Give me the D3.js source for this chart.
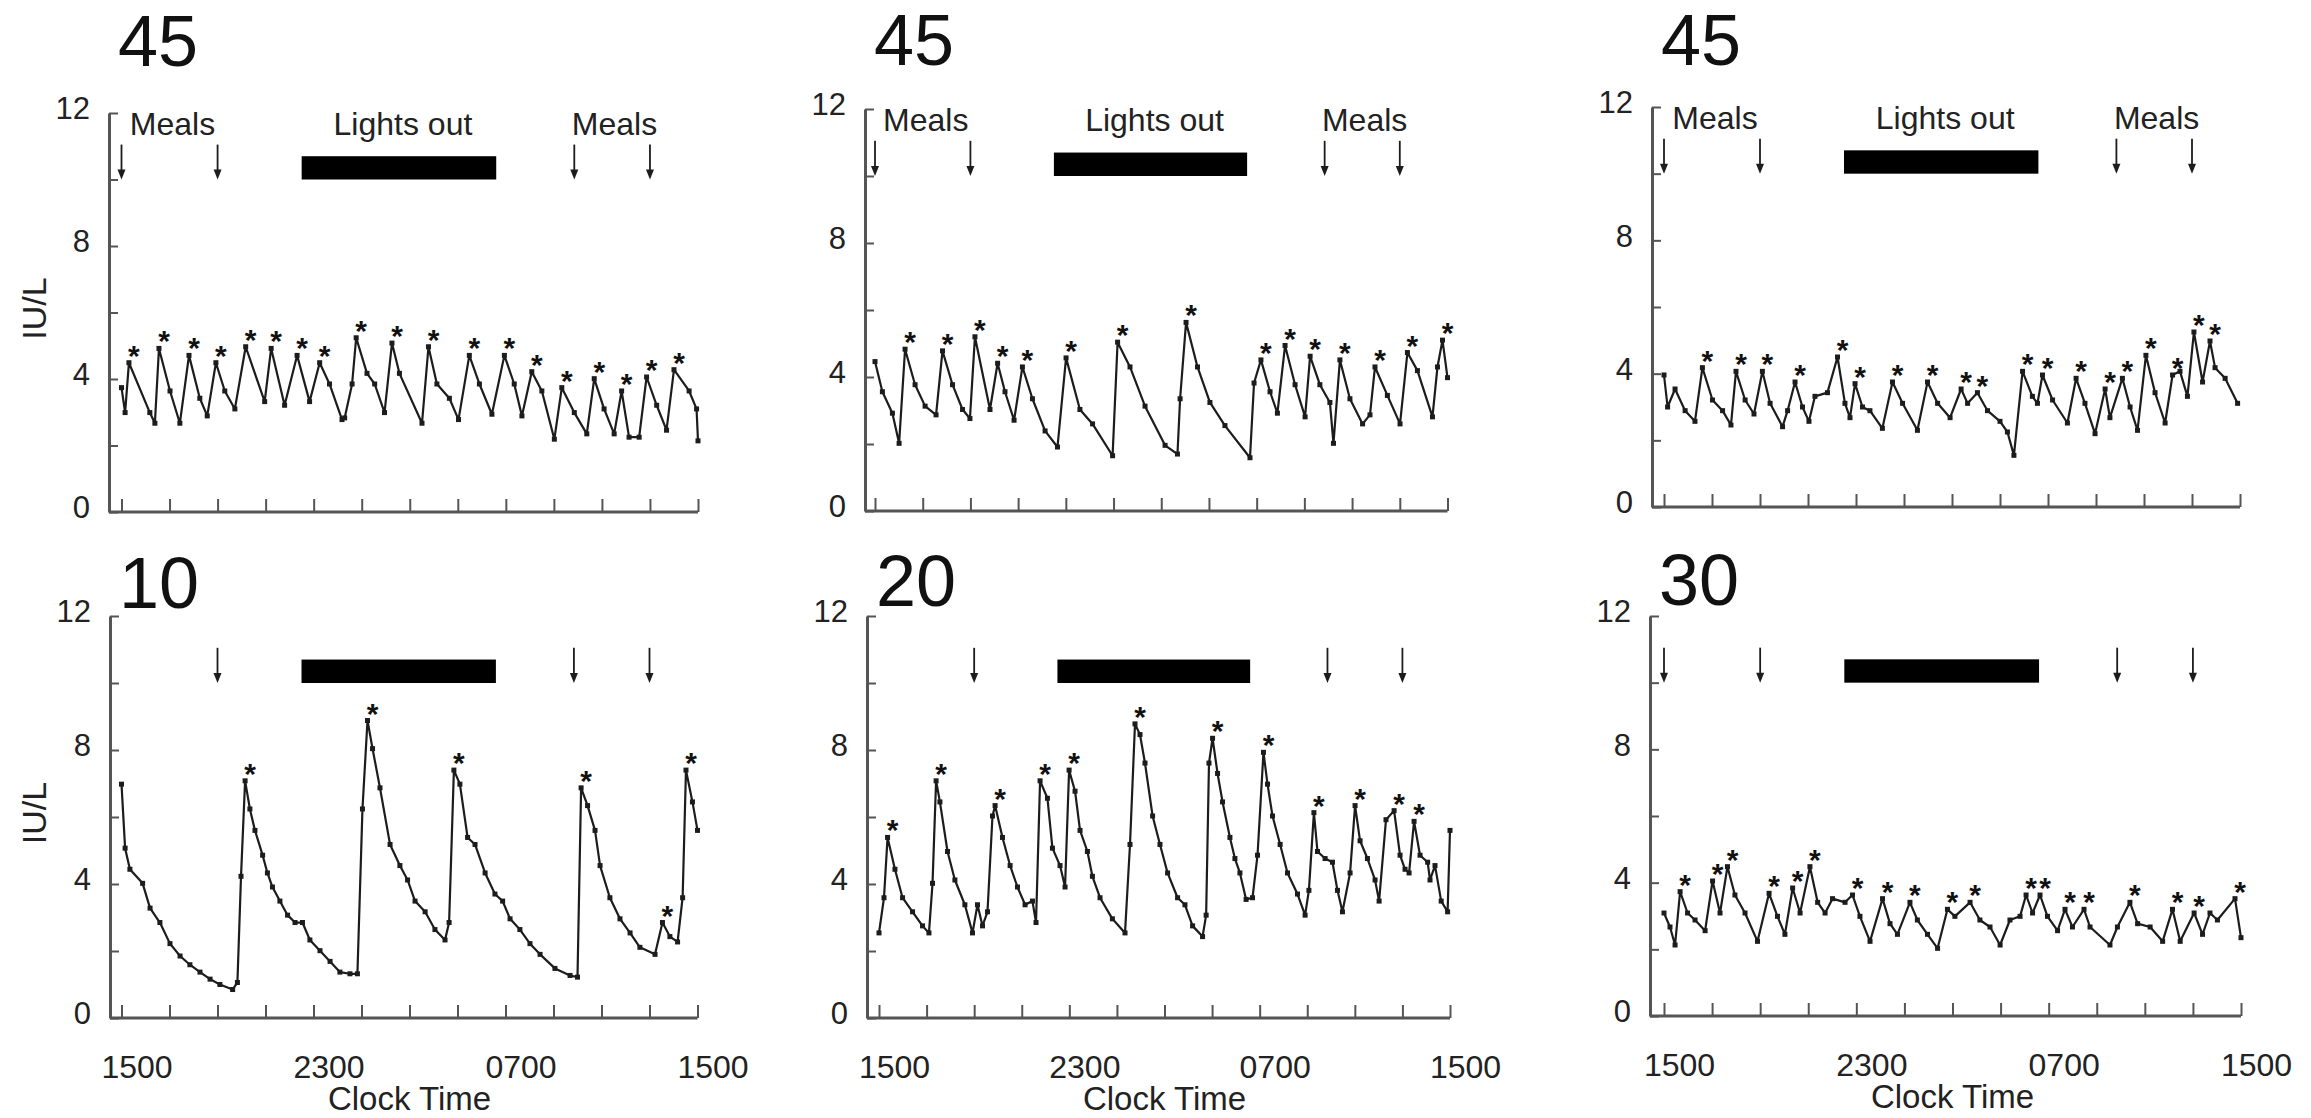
<!DOCTYPE html>
<html>
<head>
<meta charset="utf-8">
<script src="https://cdn.jsdelivr.net/npm/d3@7"></script>
<style>
  html, body { margin: 0; padding: 0; background: #fff; }
  svg { display: block; }
</style>
</head>
<body>
<svg id="chart" width="2311" height="1118"></svg>
<script>
// hours after 1500 (0..24), IU/L
const clockLabels = {0: '1500', 8: '2300', 16: '0700', 24: '1500'}
const mealsAll = [0, 4, 18.85, 22]
const mealsNoFirst = [4, 18.85, 22]
const mealLabelHours = [2, 20.4]
const lightsOut = [7.5, 15.6]

const series45a = [
  [0, 3.74], [0.15, 2.99], [0.31, 4.49], [1.18, 2.99], [1.39, 2.67], [1.56, 4.92], [2.02, 3.64], [2.43, 2.67],
  [2.81, 4.71], [3.26, 3.42], [3.57, 2.89], [3.93, 4.49], [4.3, 3.64], [4.72, 3.1], [5.17, 4.97], [5.96, 3.32],
  [6.23, 4.92], [6.79, 3.21], [7.31, 4.71], [7.83, 3.32], [8.25, 4.49], [8.66, 3.85], [9.18, 2.78], [9.29, 2.83],
  [9.6, 3.85], [9.77, 5.24], [10.22, 4.17], [10.54, 3.85], [10.95, 2.99], [11.26, 5.08], [11.57, 4.17], [12.51, 2.67],
  [12.78, 4.97], [13.13, 3.85], [13.65, 3.42], [14.03, 2.78], [14.48, 4.71], [14.9, 3.85], [15.42, 2.94], [15.94, 4.71],
  [16.35, 3.85], [16.67, 2.89], [17.08, 4.22], [17.5, 3.64], [18.02, 2.19], [18.33, 3.74], [18.85, 2.99], [19.37, 2.35],
  [19.68, 4.01], [20.09, 3.1], [20.51, 2.35], [20.82, 3.64], [21.13, 2.25], [21.55, 2.25], [21.86, 4.06], [22.28, 3.21],
  [22.69, 2.46], [23.0, 4.28], [23.63, 3.64], [23.94, 3.1], [24, 2.14]
]
const stars45a = [0.31, 1.56, 2.81, 3.93, 5.17, 6.23, 7.31, 8.25, 9.77, 11.26, 12.78, 14.48, 15.94, 17.08, 18.33, 19.68, 20.82, 21.86, 23.0]

const series45b = [
  [0, 4.46], [0.31, 3.56], [0.73, 2.92], [1.01, 2.02], [1.26, 4.83], [1.68, 3.77], [2.1, 3.13], [2.56, 2.87],
  [2.83, 4.78], [3.25, 3.77], [3.67, 3.03], [3.98, 2.76], [4.19, 5.2], [4.82, 3.03], [5.14, 4.41], [5.45, 3.56],
  [5.83, 2.71], [6.18, 4.3], [6.6, 3.35], [7.13, 2.39], [7.65, 1.91], [8.01, 4.57], [8.59, 3.03], [9.12, 2.6],
  [9.96, 1.65], [10.17, 5.04], [10.69, 4.3], [11.32, 3.13], [12.16, 1.96], [12.68, 1.7], [12.79, 3.35], [13.04, 5.63],
  [13.52, 4.3], [14.04, 3.24], [14.67, 2.55], [15.72, 1.59], [15.89, 3.82], [16.18, 4.51], [16.56, 3.56], [16.87, 2.92],
  [17.19, 4.94], [17.61, 3.77], [18.03, 2.81], [18.24, 4.62], [18.65, 3.77], [19.07, 3.24], [19.22, 2.02], [19.49, 4.51],
  [19.91, 3.35], [20.44, 2.6], [20.75, 2.87], [20.96, 4.3], [21.48, 3.45], [22.01, 2.6], [22.32, 4.73], [22.74, 4.19],
  [23.37, 2.81], [23.58, 4.3], [23.79, 5.1], [24, 3.98]
]
const stars45b = [1.26, 2.83, 4.19, 5.14, 6.18, 8.01, 10.17, 13.04, 16.18, 17.19, 18.24, 19.49, 20.96, 22.32, 23.79]

const series45c = [
  [0, 3.96], [0.15, 3.0], [0.46, 3.54], [0.88, 2.89], [1.29, 2.57], [1.6, 4.18], [2.02, 3.21], [2.44, 2.89],
  [2.79, 2.46], [3.0, 4.07], [3.38, 3.21], [3.75, 2.79], [4.1, 4.07], [4.42, 3.11], [4.94, 2.41], [5.15, 2.89],
  [5.46, 3.75], [5.77, 3.0], [6.04, 2.57], [6.29, 3.32], [6.81, 3.43], [7.23, 4.5], [7.54, 3.11], [7.75, 2.68],
  [7.96, 3.7], [8.27, 3.0], [8.58, 2.89], [9.1, 2.36], [9.52, 3.75], [9.94, 3.11], [10.56, 2.3], [10.98, 3.75],
  [11.4, 3.11], [11.92, 2.68], [12.38, 3.54], [12.65, 3.11], [13.06, 3.43], [13.48, 2.89], [14.0, 2.57], [14.31, 2.25],
  [14.58, 1.55], [14.94, 4.07], [15.35, 3.32], [15.56, 3.11], [15.77, 3.96], [16.19, 3.21], [16.81, 2.52], [17.17, 3.86],
  [17.54, 3.11], [17.96, 2.2], [18.38, 3.54], [18.58, 2.68], [19.1, 3.86], [19.42, 3.0], [19.73, 2.3], [20.08, 4.55],
  [20.46, 3.43], [20.88, 2.52], [21.19, 3.96], [21.5, 4.07], [21.81, 3.32], [22.08, 5.25], [22.44, 3.75], [22.75, 4.98],
  [22.96, 4.18], [23.38, 3.86], [23.9, 3.11]
]
const stars45c = [1.6, 3.0, 4.1, 5.46, 7.23, 7.96, 9.52, 10.98, 12.38, 13.06, 14.94, 15.77, 17.17, 18.38, 19.1, 20.08, 21.19, 22.08, 22.75]

const series10 = [
  [0, 6.98], [0.15, 5.07], [0.35, 4.44], [0.88, 4.02], [1.19, 3.28], [1.6, 2.85], [2.02, 2.22], [2.44, 1.85],
  [2.85, 1.59], [3.27, 1.37], [3.69, 1.16], [4.1, 1.0], [4.63, 0.85], [4.83, 1.06], [4.98, 4.23], [5.15, 7.08],
  [5.35, 6.24], [5.56, 5.6], [5.88, 4.86], [6.08, 4.33], [6.29, 3.91], [6.6, 3.49], [6.92, 3.07], [7.23, 2.85],
  [7.54, 2.85], [7.85, 2.33], [8.27, 2.01], [8.69, 1.69], [9.1, 1.37], [9.52, 1.32], [9.83, 1.32], [10.04, 6.24],
  [10.25, 8.88], [10.46, 8.04], [10.77, 6.87], [11.19, 5.18], [11.6, 4.55], [11.92, 4.12], [12.23, 3.49], [12.65, 3.17],
  [13.06, 2.64], [13.48, 2.33], [13.65, 2.85], [13.85, 7.4], [14.1, 6.98], [14.42, 5.39], [14.73, 5.18], [15.15, 4.33],
  [15.56, 3.7], [15.88, 3.49], [16.19, 2.96], [16.6, 2.64], [17.02, 2.22], [17.44, 1.9], [18.06, 1.48], [18.69, 1.27],
  [19.0, 1.22], [19.15, 6.87], [19.42, 6.34], [19.73, 5.6], [19.94, 4.55], [20.35, 3.59], [20.77, 2.96], [21.19, 2.54],
  [21.6, 2.11], [22.23, 1.9], [22.54, 2.85], [22.85, 2.43], [23.17, 2.27], [23.38, 3.59], [23.52, 7.4], [23.79, 6.45],
  [24, 5.6]
]
const stars10 = [5.15, 10.25, 13.85, 19.15, 22.54, 23.52]

const series20 = [
  [0, 2.54], [0.21, 3.59], [0.36, 5.39], [0.67, 4.44], [0.99, 3.59], [1.41, 3.17], [1.83, 2.75], [2.1, 2.54],
  [2.25, 4.02], [2.4, 7.08], [2.56, 6.45], [2.88, 4.97], [3.19, 4.12], [3.61, 3.38], [3.93, 2.54], [4.14, 3.38],
  [4.35, 2.75], [4.56, 3.17], [4.77, 6.03], [4.88, 6.34], [5.19, 5.39], [5.51, 4.55], [5.82, 3.91], [6.14, 3.38],
  [6.45, 3.49], [6.6, 2.85], [6.77, 7.08], [7.08, 6.56], [7.29, 5.07], [7.61, 4.55], [7.82, 3.91], [7.99, 7.4],
  [8.24, 6.77], [8.45, 5.6], [8.76, 4.97], [8.97, 4.23], [9.29, 3.59], [9.81, 2.96], [10.34, 2.54], [10.55, 5.18],
  [10.76, 8.78], [10.97, 8.46], [11.18, 7.61], [11.5, 6.03], [11.81, 5.18], [12.13, 4.33], [12.55, 3.59], [12.86, 3.38],
  [13.18, 2.75], [13.6, 2.43], [13.75, 3.07], [13.87, 7.61], [14.02, 8.35], [14.23, 7.3], [14.44, 6.45], [14.75, 5.39],
  [14.96, 4.76], [15.17, 4.33], [15.43, 3.54], [15.7, 3.59], [15.91, 4.86], [16.16, 7.93], [16.33, 6.98], [16.54, 6.03],
  [16.86, 5.18], [17.17, 4.33], [17.59, 3.7], [17.91, 3.07], [18.07, 3.81], [18.28, 6.13], [18.43, 4.97], [18.75, 4.76],
  [19.06, 4.65], [19.27, 3.81], [19.48, 3.17], [19.8, 4.33], [20.01, 6.34], [20.22, 5.29], [20.53, 4.76], [20.85, 4.12],
  [21.02, 3.49], [21.31, 5.92], [21.65, 6.19], [21.9, 4.86], [22.11, 4.44], [22.28, 4.33], [22.49, 5.87], [22.74, 4.86],
  [23.06, 4.65], [23.16, 4.12], [23.37, 4.55], [23.63, 3.49], [23.9, 3.17], [24, 5.6]
]
const stars20 = [0.36, 2.4, 4.88, 6.77, 7.99, 10.76, 14.02, 16.16, 18.28, 20.01, 21.65, 22.49]

const series30 = [
  [0, 3.09], [0.25, 2.67], [0.46, 2.13], [0.67, 3.73], [0.98, 3.09], [1.29, 2.88], [1.71, 2.56], [2.02, 4.05],
  [2.33, 3.09], [2.64, 4.48], [2.95, 3.63], [3.37, 3.09], [3.89, 2.24], [4.37, 3.68], [4.72, 2.99], [5.03, 2.45],
  [5.35, 3.84], [5.66, 3.09], [6.07, 4.48], [6.39, 3.41], [6.7, 3.09], [7.01, 3.52], [7.53, 3.41], [7.84, 3.63],
  [8.15, 2.99], [8.57, 2.24], [9.09, 3.52], [9.4, 2.77], [9.71, 2.45], [10.23, 3.41], [10.54, 2.88], [10.96, 2.45],
  [11.38, 2.03], [11.79, 3.2], [12.1, 2.99], [12.73, 3.41], [13.14, 2.88], [13.56, 2.67], [13.98, 2.13], [14.39, 2.88],
  [14.81, 2.99], [15.06, 3.63], [15.33, 3.09], [15.64, 3.63], [15.95, 2.99], [16.37, 2.56], [16.68, 3.2], [16.99, 2.67],
  [17.47, 3.2], [17.72, 2.67], [18.55, 2.13], [18.86, 2.67], [19.38, 3.41], [19.7, 2.77], [20.22, 2.67], [20.74, 2.24],
  [21.15, 3.2], [21.47, 2.24], [22.05, 3.09], [22.4, 2.45], [22.71, 3.09], [23.02, 2.88], [23.75, 3.52], [24, 2.35]
]
const stars30 = [0.67, 2.02, 2.64, 4.37, 5.35, 6.07, 7.84, 9.09, 10.23, 11.79, 12.73, 15.06, 15.64, 16.68, 17.47, 19.38, 21.15, 22.05, 23.75]

// where each panel sits on the page (axis x, first/last hour tick x, y of 12 and 0)
const panels = [
  {title: '45', data: series45a, stars: stars45a, meals: mealsAll, labels: true, yTitle: true, xLabels: false,
    box: {ax: 109, x0: 121.5, x1: 698, top: 113, bottom: 512}, titleY: 66},
  {title: '45', data: series45b, stars: stars45b, meals: mealsAll, labels: true, yTitle: false, xLabels: false,
    box: {ax: 865, x0: 875, x1: 1447.5, top: 109, bottom: 511}, titleY: 65},
  {title: '45', data: series45c, stars: stars45c, meals: mealsAll, labels: true, yTitle: false, xLabels: false,
    box: {ax: 1652, x0: 1664, x1: 2240, top: 107, bottom: 507}, titleY: 65},
  {title: '10', data: series10, stars: stars10, meals: mealsNoFirst, labels: false, yTitle: true, xLabels: true,
    box: {ax: 110, x0: 121.5, x1: 697.5, top: 616, bottom: 1018}, titleY: 608},
  {title: '20', data: series20, stars: stars20, meals: mealsNoFirst, labels: false, yTitle: false, xLabels: true,
    box: {ax: 867, x0: 879, x1: 1450, top: 616, bottom: 1018}, titleY: 606},
  {title: '30', data: series30, stars: stars30, meals: mealsAll, labels: false, yTitle: false, xLabels: true,
    box: {ax: 1650, x0: 1664, x1: 2241, top: 616, bottom: 1016}, titleY: 605}
]

const font = "'Liberation Sans', Arial, Helvetica, sans-serif"
const ink = '#1c1c1c'
const axisInk = '#555'

const svg = d3.select('#chart')
svg.append('rect').attr('width', 2311).attr('height', 1118).attr('fill', '#fff')

function drawPanel(p) {
  const b = p.box
  const x = d3.scaleLinear().domain([0, 24]).range([b.x0, b.x1])
  const y = d3.scaleLinear().domain([0, 12]).range([b.bottom, b.top])
  const g = svg.append('g').attr('font-family', font)

  // y axis, ticks pointing in
  const gy = g.append('g')
    .attr('transform', `translate(${b.ax},0)`)
    .call(d3.axisLeft(y).tickValues(d3.range(0, 13, 2)).tickSize(-9).tickSizeOuter(0).tickPadding(19)
      .tickFormat(d => d % 4 === 0 ? d : ''))
  gy.attr('font-size', 31).attr('font-family', font)
  gy.select('.domain').attr('stroke', axisInk).attr('stroke-width', 3)
  gy.selectAll('.tick line').attr('stroke', axisInk).attr('stroke-width', 2)
  gy.selectAll('.tick text').attr('fill', '#222').attr('y', -4)

  // x axis, ticks pointing up
  const gx = g.append('g')
    .attr('transform', `translate(0,${b.bottom})`)
    .call(d3.axisBottom(x).tickValues(d3.range(0, 25, 2)).tickSize(-13).tickSizeOuter(0)
      .tickFormat(d => p.xLabels ? (clockLabels[d] || '') : ''))
  gx.attr('font-size', 32).attr('font-family', font)
  gx.select('.domain').remove()
  gx.append('line')
    .attr('x1', b.ax).attr('x2', b.x1)
    .attr('stroke', axisInk).attr('stroke-width', 3)
  gx.selectAll('.tick line').attr('stroke', axisInk).attr('stroke-width', 2)
  gx.selectAll('.tick text').attr('fill', '#222').attr('y', 60).attr('dy', 0).attr('dx', 15)

  if (p.xLabels) {
    g.append('text')
      .attr('x', (b.x0 + b.x1) / 2).attr('y', b.bottom + 92)
      .attr('text-anchor', 'middle').attr('font-size', 33).attr('fill', '#222')
      .text('Clock Time')
  }
  if (p.yTitle) {
    g.append('text')
      .attr('transform', `translate(34,${(b.top + b.bottom) / 2 - 4}) rotate(-90)`)
      .attr('dy', '0.35em')
      .attr('text-anchor', 'middle').attr('font-size', 34).attr('fill', '#222')
      .text('IU/L')
  }

  // panel number
  g.append('text')
    .attr('x', b.ax + 9).attr('y', p.titleY)
    .attr('font-size', 72).attr('fill', '#111')
    .text(p.title)

  // lights out bar
  g.append('rect')
    .attr('x', x(lightsOut[0])).attr('width', x(lightsOut[1]) - x(lightsOut[0]))
    .attr('y', y(10.7)).attr('height', y(10) - y(10.7))
    .attr('fill', '#000')

  // meal arrows
  const arrows = g.append('g').selectAll('g').data(p.meals).join('g')
  arrows.append('line')
    .attr('x1', d => x(d)).attr('x2', d => x(d))
    .attr('y1', y(11.05)).attr('y2', y(10) - 6)
    .attr('stroke', ink).attr('stroke-width', 1.8)
  arrows.append('path')
    .attr('d', d => `M${x(d) - 4},${y(10) - 10}L${x(d) + 4},${y(10) - 10}L${x(d)},${y(10)}Z`)
    .attr('fill', ink)

  if (p.labels) {
    g.selectAll('.meal-label').data(mealLabelHours).join('text')
      .attr('x', d => x(d) + 3).attr('y', y(11.35))
      .attr('text-anchor', 'middle').attr('font-size', 32).attr('fill', '#222')
      .text('Meals')
    g.append('text')
      .attr('x', x((lightsOut[0] + lightsOut[1]) / 2) + 4).attr('y', y(11.35))
      .attr('text-anchor', 'middle').attr('font-size', 32).attr('fill', '#222')
      .text('Lights out')
  }

  // hormone trace
  const line = d3.line().x(d => x(d[0])).y(d => y(d[1]))
  g.append('path')
    .datum(p.data)
    .attr('d', line)
    .attr('fill', 'none').attr('stroke', ink).attr('stroke-width', 2.2)
    .attr('stroke-linejoin', 'round')
  g.append('g').selectAll('rect').data(p.data).join('rect')
    .attr('x', d => x(d[0]) - 2.5).attr('y', d => y(d[1]) - 2.5)
    .attr('width', 5).attr('height', 5).attr('fill', ink)

  // significant pulses
  const peakOf = h => p.data.reduce((a, c) => Math.abs(c[0] - h) < Math.abs(a[0] - h) ? c : a)
  g.append('g').selectAll('text').data(p.stars).join('text')
    .attr('x', h => x(h) + 5)
    .attr('y', h => y(peakOf(h)[1]) + 3)
    .attr('text-anchor', 'middle').attr('font-size', 30).attr('font-weight', 'bold').attr('fill', '#111')
    .text('*')
}

panels.forEach(drawPanel)
</script>
</body>
</html>
